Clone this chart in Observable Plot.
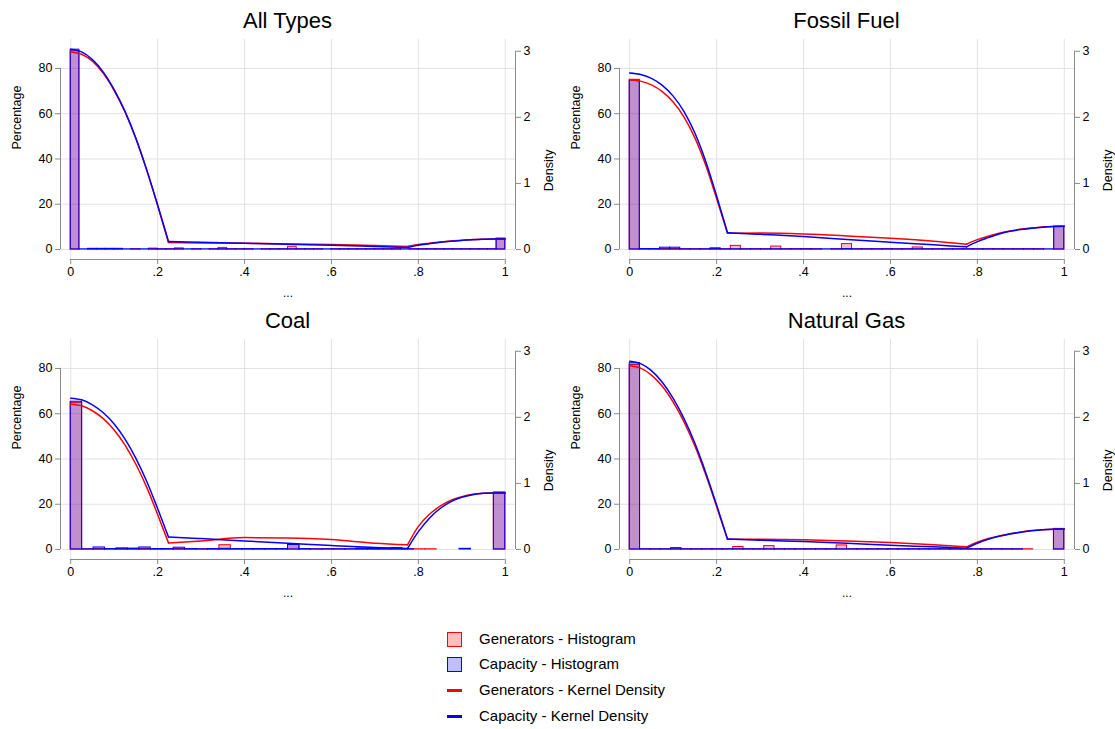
<!DOCTYPE html>
<html>
<head>
<meta charset="utf-8">
<script src="https://cdn.jsdelivr.net/npm/d3@7"></script>
<script src="https://cdn.jsdelivr.net/npm/@observablehq/plot@0.6"></script>
<style>
  body { margin: 0; background: #fff; font-family: Arial, "Liberation Sans", sans-serif; }
  #wrap { position: relative; width: 1115px; height: 729px; overflow: hidden; background: #fff; }
  .panel { position: absolute; width: 556px; height: 300px; }
  .panel svg { position: absolute; left: 0; top: 0; }
  .title { position: absolute; top: 10px; left: 0; width: 575px; text-align: center; font-size: 22px; line-height: 22px; color: #000; }
  .legrow { position: absolute; left: 447px; height: 20px; }
  .sw { position: absolute; left: 0; box-sizing: border-box; }
  .lt { position: absolute; left: 32px; top: 0; font-size: 15px; line-height: 20px; white-space: nowrap; color: #000; }
</style>
</head>
<body>
<div id="wrap"></div>
<script>
// ---------- data ----------
const panelTitles = ["All Types", "Fossil Fuel", "Coal", "Natural Gas"];
const binCounts = [50, 43, 38, 42];
const xTicks = [0, 0.2, 0.4, 0.6, 0.8, 1];
const pctTicks = [0, 20, 40, 60, 80];
const densityTicks = [0, 1, 2, 3];
const legendLabels = ["Generators - Histogram", "Capacity - Histogram", "Generators - Kernel Density", "Capacity - Kernel Density"];

// histogram percentages per bin (bins of equal width spanning 0..1)
const genHistAll = [87.6, 0, 0.1, 0.1, 0.1, 0.1, 0, 0.1, 0, 0.4, 0.1, 0.1, 0.5, 0, 0.1, 0, 0.1, 0.7, 0.1, 0.1, 0.1, 0, 0.1, 0.1, 0.1, 1.2, 0.1, 0.1, 0.1, 0, 0.1, 0.1, 0.1, 0.1, 0.1, 0.1, 0.1, 0.1, 0, 0.1, 0.1, 0.1, 0.1, 0.1, 0.1, 0.1, 0.1, 0.1, 0.1, 4.7];
const capHistAll = [88.3, 0.1, 0.3, 0.3, 0.3, 0.3, 0.1, 0.1, 0.1, 0.1, 0.1, 0.1, 0.1, 0.1, 0.1, 0.1, 0.1, 0.1, 0.1, 0.1, 0.1, 0.1, 0.1, 0.1, 0.1, 0.1, 0.1, 0.1, 0.1, 0.1, 0.1, 0.1, 0.1, 0.1, 0.1, 0.1, 0.1, 0.1, 0.1, 0.1, 0.1, 0.1, 0.1, 0.1, 0.1, 0.1, 0.1, 0.1, 0.1, 4.8];
const genHistFossil = [75.0, 0.1, 0.1, 0.2, 0.2, 0.1, 0.1, 0.1, 0.6, 0.1, 1.6, 0.1, 0.1, 0.1, 1.3, 0.1, 0.1, 0.2, 0.1, 0, 0.1, 2.4, 0.1, 0.1, 0.1, 0.2, 0.1, 0.1, 0.9, 0.1, 0.1, 0.1, 0.1, 0.1, 0.1, 0.1, 0.1, 0.1, 0.1, 0.1, 0.1, 0, 10.0];
const capHistFossil = [74.6, 0.2, 0.2, 0.8, 0.8, 0.1, 0.1, 0.1, 0.2, 0.1, 0.1, 0.1, 0.1, 0.1, 0.1, 0.1, 0.1, 0.1, 0.1, 0.1, 0.1, 0.2, 0.1, 0.1, 0.1, 0.1, 0.1, 0.1, 0.1, 0.1, 0.1, 0.1, 0.1, 0.1, 0.1, 0.1, 0.1, 0.1, 0.1, 0.1, 0.1, 0.1, 10.1];
const genHistCoal = [64.8, 0.1, 0.2, 0.1, 0.2, 0.1, 0.3, 0.1, 0.1, 0.2, 0.1, 0.1, 0.1, 1.9, 0.1, 0.2, 0.1, 0.1, 0.1, 2.4, 0.1, 0.1, 0.2, 0.1, 0.1, 0.1, 0.2, 0.1, 0.3, 0.1, 0.1, 0.1, 0, 0, 0, 0, 0, 25.0];
const capHistCoal = [65.3, 0.1, 0.9, 0.2, 0.5, 0.4, 0.9, 0.2, 0.2, 0.8, 0.2, 0.1, 0.2, 0.3, 0.2, 0.2, 0.2, 0.2, 0.2, 2.0, 0.2, 0.1, 0.1, 0.1, 0.1, 0.4, 0.4, 0.2, 0.6, 0.1, 0, 0, 0, 0, 0.3, 0, 0, 25.2];
const genHistNG = [81.5, 0.1, 0.1, 0.1, 0.1, 0.1, 0.1, 0.1, 0.1, 0.1, 1.1, 0.1, 0.1, 1.5, 0.1, 0.1, 0.1, 0.1, 0.1, 0.1, 1.8, 0.1, 0.1, 0.1, 0.1, 0.1, 0.1, 0.1, 0.1, 0.1, 0.1, 0.1, 0.1, 0.1, 0.1, 0.1, 0.1, 0.1, 0.1, 0, 0, 9.0];
const capHistNG = [82.3, 0.1, 0.1, 0.1, 0.6, 0.1, 0.1, 0.1, 0.1, 0.1, 0.1, 0.1, 0.1, 0.1, 0.1, 0.1, 0.1, 0.1, 0.1, 0.1, 0.1, 0.1, 0.1, 0.1, 0.1, 0.1, 0.1, 0.1, 0.1, 0.1, 0.1, 0.1, 0.1, 0.1, 0.1, 0.1, 0.1, 0.1, 0, 0, 0, 9.1];

// kernel density estimates (read from the right axis) at these x positions
const kdeX = [0, 0.025, 0.05, 0.075, 0.1, 0.125, 0.15, 0.175, 0.2, 0.225, 0.3, 0.4, 0.5, 0.6, 0.7, 0.775, 0.8, 0.825, 0.85, 0.875, 0.9, 0.925, 0.95, 0.975, 1];
const kinkX = [0.225, 0.775];
const genKdeAll = [2.99, 2.955, 2.85, 2.665, 2.405, 2.08, 1.675, 1.195, 0.665, 0.105, 0.10, 0.095, 0.085, 0.075, 0.06, 0.045, 0.075, 0.096, 0.115, 0.13, 0.14, 0.15, 0.155, 0.159, 0.16];
const capKdeAll = [3.03, 2.99, 2.875, 2.685, 2.42, 2.09, 1.685, 1.205, 0.675, 0.12, 0.11, 0.095, 0.08, 0.065, 0.045, 0.03, 0.064, 0.087, 0.11, 0.126, 0.138, 0.148, 0.155, 0.159, 0.16];
const genKdeFossil = [2.57, 2.548, 2.492, 2.39, 2.232, 2.005, 1.69, 1.275, 0.77, 0.245, 0.25, 0.235, 0.205, 0.17, 0.125, 0.08, 0.15, 0.20, 0.245, 0.28, 0.305, 0.325, 0.34, 0.348, 0.35];
const capKdeFossil = [2.67, 2.647, 2.589, 2.484, 2.321, 2.088, 1.762, 1.332, 0.809, 0.255, 0.23, 0.195, 0.15, 0.11, 0.07, 0.04, 0.12, 0.18, 0.235, 0.275, 0.302, 0.323, 0.338, 0.347, 0.35];
const genKdeCoal = [2.20, 2.175, 2.10, 1.98, 1.81, 1.58, 1.29, 0.94, 0.53, 0.10, 0.13, 0.18, 0.175, 0.15, 0.095, 0.07, 0.35, 0.53, 0.655, 0.745, 0.80, 0.835, 0.852, 0.856, 0.856];
const capKdeCoal = [2.29, 2.265, 2.19, 2.07, 1.90, 1.67, 1.38, 1.03, 0.62, 0.19, 0.165, 0.13, 0.095, 0.06, 0.03, 0.015, 0.27, 0.47, 0.62, 0.725, 0.79, 0.83, 0.85, 0.856, 0.856];
const genKdeNG = [2.78, 2.745, 2.64, 2.47, 2.23, 1.93, 1.565, 1.13, 0.65, 0.155, 0.155, 0.148, 0.13, 0.105, 0.07, 0.04, 0.11, 0.165, 0.205, 0.24, 0.265, 0.287, 0.30, 0.307, 0.31];
const capKdeNG = [2.85, 2.813, 2.707, 2.531, 2.286, 1.981, 1.607, 1.163, 0.673, 0.16, 0.14, 0.12, 0.095, 0.065, 0.04, 0.02, 0.095, 0.155, 0.20, 0.235, 0.262, 0.285, 0.30, 0.307, 0.31];

const genHists = [genHistAll, genHistFossil, genHistCoal, genHistNG];
const capHists = [capHistAll, capHistFossil, capHistCoal, capHistNG];
const genKdes = [genKdeAll, genKdeFossil, genKdeCoal, genKdeNG];
const capKdes = [capKdeAll, capKdeFossil, capKdeCoal, capKdeNG];

// ---------- styling / layout ----------
const RED = "#ff0000", BLUE = "#0000ff";
const axisGray = "#8a8a8a", gridGray = "#e2e2e2";
const xDomain = [-0.0235, 1.0235];
const yDomain = [-4.42, 92.8];
const densityToPct = 29.2;   // right axis: 1 density unit == 29.2 percentage units
const W = 556, H = 300;
const positions = [[0, 0], [559, 0], [0, 300], [559, 300]];

function histRows(values) {
  const n = values.length;
  return values.map((v, i) => ({x1: i / n, x2: (i + 1) / n, y1: 0, y2: v})).filter(d => d.y2 > 0);
}
function kdeRows(values) {
  const bounds = [0, ...kinkX, 1];
  const rows = [];
  for (let s = 0; s < bounds.length - 1; s++) {
    kdeX.forEach((x, i) => {
      if (x >= bounds[s] - 1e-9 && x <= bounds[s + 1] + 1e-9) rows.push({x, d: values[i], seg: s});
    });
  }
  return rows;
}
const xFmt = d => d === 0 ? "0" : d === 1 ? "1" : d3.format(".1f")(d).replace(/^0/, "");

const wrap = document.getElementById("wrap");

panelTitles.forEach((title, p) => {
  const div = document.createElement("div");
  div.className = "panel";
  div.style.left = positions[p][0] + "px";
  div.style.top = positions[p][1] + "px";

  const chart = Plot.plot({
    width: W, height: H,
    marginLeft: 60, marginRight: 41, marginTop: 39, marginBottom: 41,
    x: {domain: xDomain},
    y: {domain: yDomain},
    style: {fontFamily: "Arial, 'Liberation Sans', sans-serif", fontSize: "12.5px", color: "#000", background: "transparent"},
    marks: [
      Plot.gridY(pctTicks, {stroke: gridGray, strokeOpacity: 1, strokeWidth: 1}),
      Plot.gridX(xTicks, {stroke: gridGray, strokeOpacity: 1, strokeWidth: 1}),
      Plot.ruleX([xDomain[0]], {y1: pctTicks[0], y2: pctTicks[pctTicks.length - 1], stroke: axisGray, strokeWidth: 1}),
      Plot.ruleX([xDomain[1]], {y1: 0, y2: densityTicks[densityTicks.length - 1] * densityToPct, stroke: axisGray, strokeWidth: 1}),
      Plot.ruleY([yDomain[0]], {x1: xTicks[0], x2: xTicks[xTicks.length - 1], stroke: axisGray, strokeWidth: 1}),
      Plot.axisY(pctTicks, {anchor: "left", tickSize: 5, tickPadding: 3, stroke: axisGray, label: null, fontSize: 12.5}),
      Plot.axisY(densityTicks.map(t => t * densityToPct), {anchor: "right", tickSize: 5, tickPadding: 3, stroke: axisGray, label: null, fontSize: 12.5, tickFormat: d => String(Math.round(d / densityToPct))}),
      Plot.axisX(xTicks, {tickSize: 5, tickPadding: 3, stroke: axisGray, label: null, fontSize: 12.5, tickFormat: xFmt}),
      Plot.text(["Percentage"], {frameAnchor: "left", rotate: -90, dx: -44, fontSize: 12.5, fill: "#000"}),
      Plot.text(["Density"], {frameAnchor: "right", rotate: -90, dx: 33, fontSize: 12.5, fill: "#000"}),
      Plot.text(["..."], {frameAnchor: "bottom", dy: 37, fontSize: 12, fill: "#000"}),
      Plot.rect(histRows(genHists[p]), {x1: "x1", x2: "x2", y1: "y1", y2: "y2", fill: RED, fillOpacity: 0.25, stroke: RED, strokeWidth: 1}),
      Plot.rect(histRows(capHists[p]), {x1: "x1", x2: "x2", y1: "y1", y2: "y2", fill: BLUE, fillOpacity: 0.25, stroke: BLUE, strokeWidth: 1}),
      Plot.line(kdeRows(genKdes[p]), {x: "x", y: d => d.d * densityToPct, z: "seg", curve: "monotone-x", stroke: RED, strokeWidth: 1.5}),
      Plot.line(kdeRows(capKdes[p]), {x: "x", y: d => d.d * densityToPct, z: "seg", curve: "monotone-x", stroke: BLUE, strokeWidth: 1.5})
    ]
  });
  div.appendChild(chart);

  const t = document.createElement("div");
  t.className = "title";
  t.textContent = title;
  div.appendChild(t);
  wrap.appendChild(div);
});

// ---------- legend ----------
const legendTops = [629, 654, 680, 706];
legendLabels.forEach((label, i) => {
  const row = document.createElement("div");
  row.className = "legrow";
  row.style.top = legendTops[i] + "px";
  const sw = document.createElement("div");
  sw.className = "sw";
  const col = i % 2 === 0 ? RED : BLUE;
  if (i < 2) {
    sw.style.top = "3px"; sw.style.width = "15px"; sw.style.height = "15px";
    sw.style.border = "1.5px solid " + col;
    sw.style.background = i === 0 ? "rgba(255,0,0,0.25)" : "rgba(0,0,255,0.25)";
  } else {
    sw.style.top = "9px"; sw.style.width = "15px"; sw.style.height = "2.5px";
    sw.style.background = col;
  }
  const lt = document.createElement("div");
  lt.className = "lt";
  lt.textContent = label;
  row.appendChild(sw);
  row.appendChild(lt);
  wrap.appendChild(row);
});
</script>
</body>
</html>
